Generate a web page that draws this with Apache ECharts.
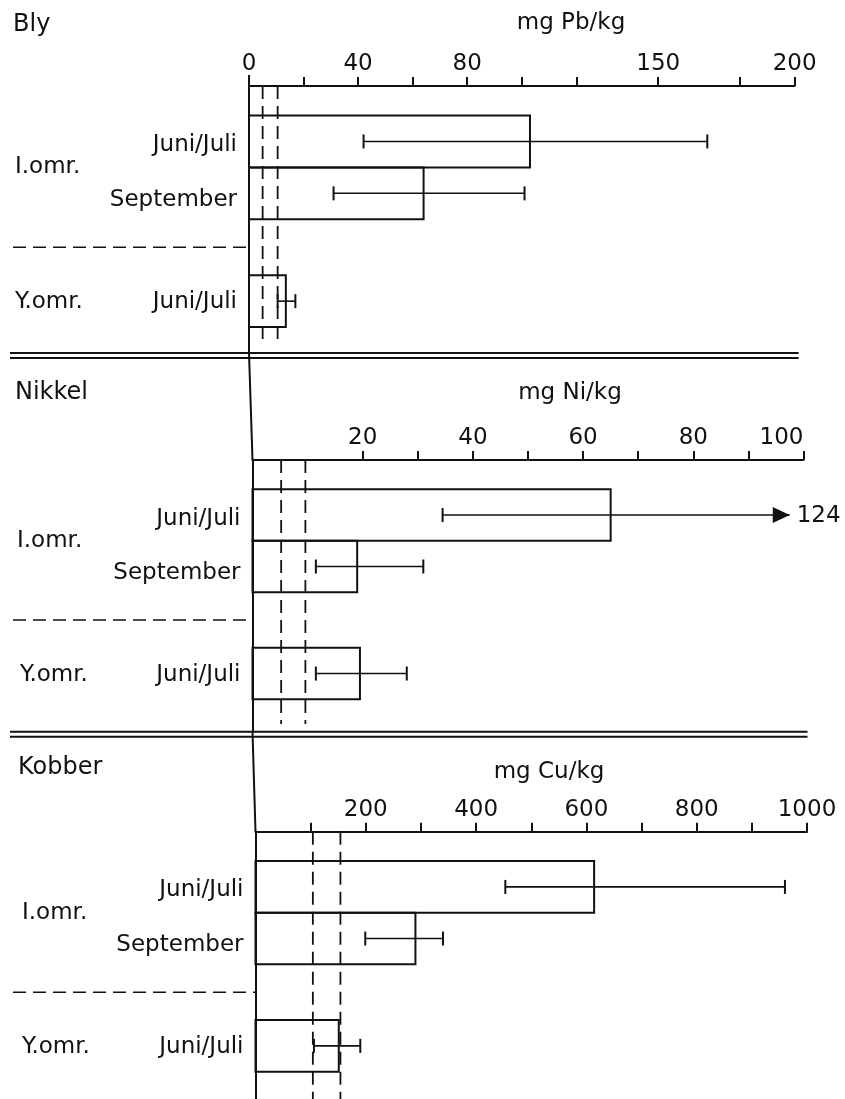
<!DOCTYPE html>
<html>
<head>
<meta charset="utf-8">
<title>Bly, Nikkel, Kobber</title>
<style>
  html, body { margin: 0; padding: 0; background: #fff; }
  #chart { width: 845px; height: 1099px; }
</style>
</head>
<body>
<div id="chart"></div>
<script src="https://cdn.jsdelivr.net/npm/echarts@6/dist/echarts.min.js"></script>
<script>
// --- data ---
var metals = ['Bly', 'Nikkel', 'Kobber'];
var units = ['mg Pb/kg', 'mg Ni/kg', 'mg Cu/kg'];
var rowNames = ['Juni/Juli', 'September', 'Juni/Juli'];
var areaNames = ['I.omr.', 'Y.omr.'];

// bly
var pbMean = [103, 64, 13.5];
var pbLow = [42, 31, 10.5];
var pbHigh = [168, 101, 17];
var pbRef = [5, 10.5];
var pbTicks = [0, 20, 40, 60, 80, 100, 120, 150, 180, 200];
var pbLabels = [0, 40, 80, 150, 200];

// nikkel
var niMean = [65, 19, 19.5];
var niLow = [34.5, 11.5, 11.5];
var niHigh = [124, 31, 28];
var niRef = [5.2, 9.6];
var niTicks = [20, 30, 40, 50, 60, 70, 80, 90, 100];
var niLabels = [20, 40, 60, 80, 100];

// kobber
var cuMean = [614, 290, 151];
var cuLow = [453, 199, 106];
var cuHigh = [960, 340, 190];
var cuRef = [104, 154];
var cuTicks = [100, 200, 300, 400, 500, 600, 700, 800, 900, 1000];
var cuLabels = [200, 400, 600, 800, 1000];

// --- layout ---
var INK = '#111';
var FONT = 'DejaVu Sans';
var slots = [0, 1, 3.08];          // row start (bar spans slot..slot+1)
var rowLabelPos = [0.57, 1.62, 3.6];
var areaLabelPos = [1.0, 3.6];
var sepPos = 2.54;
var yMin = -0.57;

var panels = [
  { mean: pbMean, low: pbLow, high: pbHigh, ref: pbRef, ticks: pbTicks, labels: pbLabels, max: 200,
    left: 249, xEnd: 794.6, top: 86, bottom: 353, yMax: 4.58, doubleLine: true,
    unitX: 571, unitY: 23, titleX: 13, titleY: 27, areaX: [15, 15] },
  { mean: niMean, low: niLow, high: niHigh, ref: niRef, ticks: niTicks, labels: niLabels, max: 100,
    left: 252.5, xEnd: 803.5, top: 460, bottom: 731.7, yMax: 4.71, doubleLine: true, arrowAt: 97.5, alignMax: 'right',
    unitX: 570, unitY: 393, titleX: 15, titleY: 395, areaX: [17, 20] },
  { mean: cuMean, low: cuLow, high: cuHigh, ref: cuRef, ticks: cuTicks, labels: cuLabels, max: 1000,
    left: 255.5, xEnd: 807, top: 831.7, bottom: 1099, yMax: 4.61, doubleLine: false,
    unitX: 549, unitY: 772, titleX: 18, titleY: 770, areaX: [22, 22] }
];

var chart = echarts.init(document.getElementById('chart'));

var grids = [], xAxes = [], yAxes = [], series = [], graphics = [];

panels.forEach(function (p, i) {
  grids.push({
    left: p.left, right: 845 - p.xEnd, top: p.top, height: p.bottom - p.top,
    outerBoundsMode: 'none', containLabel: false
  });
  xAxes.push({
    gridIndex: i, type: 'value', position: 'top', min: 0, max: p.max,
    axisLine: { show: true, onZero: false, lineStyle: { color: INK, width: 2 } },
    axisTick: { show: true, length: 9, customValues: p.ticks, lineStyle: { color: INK, width: 2 } },
    axisLabel: { show: true, customValues: p.labels, margin: 10, color: INK, fontSize: 23, fontFamily: FONT,
                 alignMaxLabel: p.alignMax || null,
                 formatter: function (v) { return String(v); } },
    splitLine: { show: false }
  });
  yAxes.push({
    gridIndex: i, type: 'value', inverse: true, min: yMin, max: p.yMax,
    axisLine: { show: true, onZero: false, lineStyle: { color: INK, width: 2 } },
    axisTick: { show: false }, axisLabel: { show: false }, splitLine: { show: false }
  });

  // bars + row labels
  series.push({
    type: 'custom', xAxisIndex: i, yAxisIndex: i, silent: true, animation: false,
    data: p.mean.map(function (v, k) { return [v, slots[k], k]; }),
    renderItem: function (params, api) {
      var v = api.value(0), s = api.value(1), k = api.value(2);
      var a = api.coord([0, s]), b = api.coord([v, s + 1]);
      var ly = api.coord([0, rowLabelPos[k]])[1];
      return {
        type: 'group', children: [
          { type: 'rect', shape: { x: a[0], y: a[1], width: b[0] - a[0], height: b[1] - a[1] },
            style: { fill: 'none', stroke: INK, lineWidth: 2 } },
          { type: 'text', x: a[0] - 12, y: ly,
            style: { text: rowNames[k], fill: INK, font: '23px "' + FONT + '"', align: 'right', verticalAlign: 'middle' } }
        ]
      };
    }
  });

  // error bars
  series.push({
    type: 'custom', xAxisIndex: i, yAxisIndex: i, silent: true, animation: false,
    data: p.low.map(function (lo, k) { return [lo, p.high[k], slots[k] + 0.5]; }),
    renderItem: function (params, api) {
      var lo = api.value(0), hi = api.value(1), yc = api.value(2);
      var over = hi > p.max;
      var a = api.coord([lo, yc]);
      var b = api.coord([over ? p.arrowAt : hi, yc]);
      var st = { stroke: INK, lineWidth: 1.6 };
      var kids = [
        { type: 'line', shape: { x1: a[0], y1: a[1], x2: b[0], y2: b[1] }, style: st },
        { type: 'line', shape: { x1: a[0], y1: a[1] - 7, x2: a[0], y2: a[1] + 7 }, style: { stroke: INK, lineWidth: 2 } }
      ];
      if (over) {
        kids.push({ type: 'polygon', shape: { points: [[b[0], b[1]], [b[0] - 17, b[1] - 8], [b[0] - 17, b[1] + 8]] },
                    style: { fill: INK } });
        kids.push({ type: 'text', x: b[0] + 7, y: b[1] + 1,
                    style: { text: String(hi), fill: INK, font: '23px "' + FONT + '"', align: 'left', verticalAlign: 'middle' } });
      } else {
        kids.push({ type: 'line', shape: { x1: b[0], y1: b[1] - 7, x2: b[0], y2: b[1] + 7 }, style: { stroke: INK, lineWidth: 2 } });
      }
      return { type: 'group', children: kids };
    }
  });

  // dashed reference lines
  series.push({
    type: 'custom', xAxisIndex: i, yAxisIndex: i, silent: true, animation: false,
    data: p.ref.map(function (r) { return [r]; }),
    renderItem: function (params, api) {
      var r = api.value(0);
      var a = api.coord([r, yMin]);
      var b = api.coord([r, p.doubleLine ? p.yMax - 0.15 : p.yMax]);
      return { type: 'line', shape: { x1: a[0], y1: a[1], x2: b[0], y2: b[1] },
               style: { stroke: INK, lineWidth: 1.8, lineDash: [13, 7] } };
    }
  });

  // group labels, separator, double rule
  series.push({
    type: 'custom', xAxisIndex: i, yAxisIndex: i, silent: true, animation: false,
    data: [[0]],
    renderItem: function (params, api) {
      var axisX = api.coord([0, 0])[0];
      var endX = api.coord([p.max, 0])[0];
      var sy = api.coord([0, sepPos])[1];
      var kids = [
        { type: 'line', shape: { x1: 13, y1: sy, x2: axisX, y2: sy }, style: { stroke: INK, lineWidth: 1.6, lineDash: [13, 7] } }
      ];
      areaNames.forEach(function (nm, k) {
        kids.push({ type: 'text', x: p.areaX[k], y: api.coord([0, areaLabelPos[k]])[1],
                    style: { text: nm, fill: INK, font: '23px "' + FONT + '"', align: 'left', verticalAlign: 'middle' } });
      });
      if (p.doubleLine) {
        var by = api.coord([0, p.yMax])[1];
        kids.push({ type: 'line', shape: { x1: 10, y1: by, x2: endX + 4, y2: by }, style: { stroke: INK, lineWidth: 2 } });
        kids.push({ type: 'line', shape: { x1: 10, y1: by + 5, x2: endX + 4, y2: by + 5 }, style: { stroke: INK, lineWidth: 2 } });
      }
      return { type: 'group', children: kids };
    }
  });

  graphics.push({ type: 'text', left: p.titleX, top: p.titleY - 14,
                  style: { text: metals[i], fill: INK, font: '24px "' + FONT + '"' } });
  graphics.push({ type: 'text', x: p.unitX, y: p.unitY,
                  style: { text: units[i], fill: INK, font: '23px "' + FONT + '"', align: 'center', verticalAlign: 'middle' } });
});

// vertical axis continues across the panel gaps
graphics.push({ type: 'line', shape: { x1: 249, y1: 75, x2: 249, y2: 86 }, style: { stroke: INK, lineWidth: 2 } });
graphics.push({ type: 'line', shape: { x1: 249, y1: 353, x2: 252.5, y2: 460 }, style: { stroke: INK, lineWidth: 2 } });
graphics.push({ type: 'line', shape: { x1: 252.5, y1: 731.7, x2: 255.5, y2: 831.7 }, style: { stroke: INK, lineWidth: 2 } });

chart.setOption({
  backgroundColor: '#fff',
  animation: false,
  grid: grids,
  xAxis: xAxes,
  yAxis: yAxes,
  series: series,
  graphic: graphics
});
</script>
</body>
</html>
